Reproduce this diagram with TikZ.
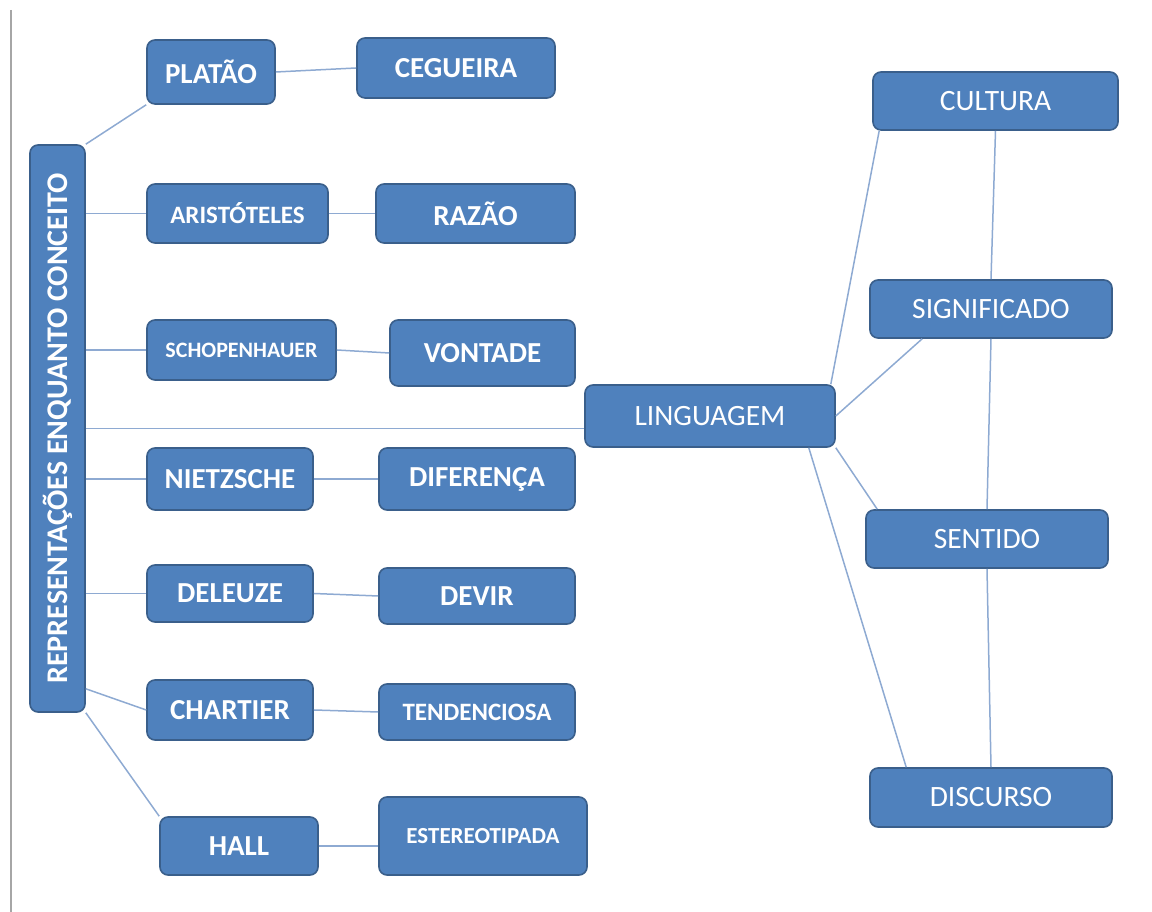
\documentclass[tikz,border=0pt]{standalone}
\usepackage{fontspec}
\setmainfont{Carlito}
\usetikzlibrary{calc}
\definecolor{boxfill}{HTML}{4F81BD}
\definecolor{boxline}{HTML}{3A5F8B}
\definecolor{linkline}{HTML}{8EAAD2}
\tikzset{concept/.style={rectangle, rounded corners=8pt, fill=boxfill, draw=boxline,
                         line width=1.6pt, text=white, inner sep=2pt},
        wd/.style={minimum width=#1pt},
        ht/.style={minimum height=#1pt},
        bigname/.style={concept, font=\fontsize{29}{31}\selectfont\bfseries},
        smallname/.style={concept, font=\fontsize{#1}{#1}\selectfont\bfseries},
        theme/.style={concept, font=\fontsize{29.5}{31}\selectfont},
        link/.style={draw=linkline, line width=1.5pt},
        }

\begin{document}
\begin{tikzpicture}[x=1pt, y=1pt]
    \useasboundingbox (0,0) rectangle (1152,912);
    \draw[gray!70, line width=2.5pt] (11,902) -- (11,0);

    \node[concept, wd=55, ht=567, font=\fontsize{30}{32}\selectfont\bfseries] (rep) at (57.5,483.5)
        {\rotatebox{90}{REPRESENTAÇÕES ENQUANTO CONCEITO}};

    \node[bigname, wd=128, ht=64] (platao) at (211,840) {PLATÃO};
    \node[bigname, wd=198, ht=60] (cegueira) at (456,844) {CEGUEIRA};
    \node[smallname=25, wd=181, ht=59] (aristoteles) at (237.5,698.5) {ARISTÓTELES};
    \node[bigname, wd=199, ht=59] (razao) at (475.5,698.5) {RAZÃO};
    \node[smallname=22, wd=189, ht=60] (schopenhauer) at (241.5,562) {SCHOPENHAUER};
    \node[bigname, wd=185, ht=66] (vontade) at (482.5,559) {VONTADE};
    \node[bigname, wd=166, ht=62] (nietzsche) at (230,433) {NIETZSCHE};
    \node[bigname, wd=196, ht=62] (diferenca) at (477,433) {DIFERENÇA};
    \node[bigname, wd=166, ht=57] (deleuze) at (230,318.5) {DELEUZE};
    \node[bigname, wd=196, ht=56] (devir) at (477,316) {DEVIR};
    \node[bigname, wd=166, ht=60] (chartier) at (230,202) {CHARTIER};
    \node[smallname=25, wd=196, ht=56] (tendenciosa) at (477,200) {TENDENCIOSA};
    \node[bigname, wd=158, ht=58] (hall) at (239,66) {HALL};
    \node[smallname=23, wd=208, ht=78] (estereotipada) at (483,76) {ESTEREOTIPADA};

    \node[theme, wd=250, ht=62] (linguagem) at (710,496) {LINGUAGEM};
    \node[theme, wd=245, ht=58] (cultura) at (995.5,811) {CULTURA};
    \node[theme, wd=242, ht=58] (significado) at (991,603) {SIGNIFICADO};
    \node[theme, wd=242, ht=58] (sentido) at (987,373) {SENTIDO};
    \node[theme, wd=242, ht=59] (discurso) at (991,114.5) {DISCURSO};

    % left branch
    \draw[link] (rep.north east) -- (platao.south west);
    \draw[link] (platao.east) -- (cegueira.west);
    \draw[link] (rep.east |- aristoteles.west) -- (aristoteles.west);
    \draw[link] (aristoteles.east) -- (razao.west);
    \draw[link] (rep.east |- schopenhauer.west) -- (schopenhauer.west);
    \draw[link] (schopenhauer.east) -- (vontade.west);
    \draw[link] (rep.east) -- (rep.east -| linguagem.west);
    \draw[link] (rep.east |- nietzsche.west) -- (nietzsche.west);
    \draw[link] (nietzsche.east) -- (diferenca.west);
    \draw[link] (rep.east |- deleuze.west) -- (deleuze.west);
    \draw[link] (deleuze.east) -- (devir.west);
    \draw[link] ($(rep.south east)+(0,24)$) -- (chartier.west);
    \draw[link] (chartier.east) -- (tendenciosa.west);
    \draw[link] (rep.south east) -- (hall.north west);
    \draw[link] (hall.east) -- (hall.east -| estereotipada.west);

    % right branch
    \draw[link] ($(linguagem.north east)+(-5,0)$) -- ($(cultura.south west)+(7,0)$);
    \draw[link] (linguagem.east) -- ($(significado.south west)+(53,0)$);
    \draw[link] (linguagem.south east) -- ($(sentido.north west)+(12,0)$);
    \draw[link] ($(linguagem.south east)+(-27,0)$) -- ($(discurso.north west)+(37,0)$);
    \draw[link] (cultura.south) -- (significado.north);
    \draw[link] (significado.south) -- (sentido.north);
    \draw[link] (sentido.south) -- (discurso.north);
\end{tikzpicture}
\end{document}
